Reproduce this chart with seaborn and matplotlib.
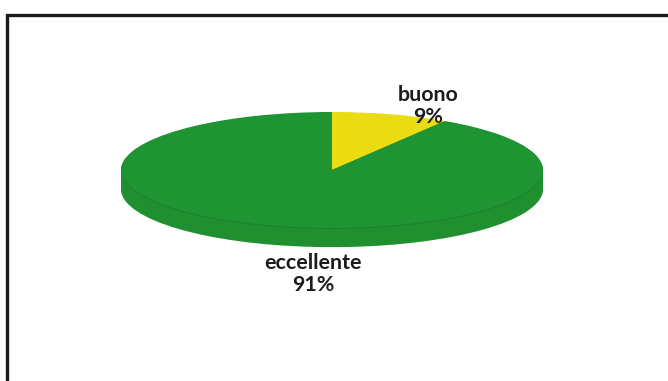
import matplotlib
matplotlib.use("Agg")
import matplotlib.pyplot as plt
import seaborn as sns
from matplotlib.patches import Rectangle

categories = ["buono", "eccellente"]
shares = [9, 91]
top_colors = ["#e9dc12", "#1f9433"]
side_color = "#1f8f30"

W, H = 668, 381
sns.set_theme(style="white")
plt.rcParams["font.family"] = ["Lato", "DejaVu Sans"]

fig = plt.figure(figsize=(W / 100, H / 100), dpi=100, facecolor="white")


def frac_box(left, top, right, bottom):
    return [left / W, 1 - bottom / H, (right - left) / W, (bottom - top) / H]


ax = fig.add_axes(frac_box(121, 112, 543, 228))

# Rim of the disc: the same pie, pushed downward and stacked
rim_steps = [-0.33 * i / 16 for i in range(16, 0, -1)]
for dy in rim_steps:
    ax.pie(shares, colors=[side_color, side_color], startangle=90, counterclock=False,
           center=(0, dy), radius=1, wedgeprops={"linewidth": 0, "clip_on": False})

# Faint seam where the top surface meets the rim
ax.pie([100], colors=["#187a2b"], startangle=90, center=(0, -0.012), radius=1,
       wedgeprops={"linewidth": 0, "clip_on": False})

# Top surface
ax.pie(shares, colors=top_colors, startangle=90, counterclock=False,
       center=(0, 0), radius=1, wedgeprops={"linewidth": 0, "clip_on": False})

ax.set_aspect("auto")
ax.set_xlim(-1, 1)
ax.set_ylim(-1, 1)
ax.axis("off")

# Labels
label_style = dict(ha="center", va="center", fontsize=15.4, fontweight="bold",
                   color="#1c1c1c", transform=fig.transFigure, linespacing=1.08)
fig.text(428 / W, 1 - 106 / H, f"{categories[0]}\n{shares[0]}%", **label_style)
fig.text(313 / W, 1 - 274 / H, f"{categories[1]}\n{shares[1]}%", **label_style)

# Outer border
fig.add_artist(Rectangle((7 / W, 1 - 400 / H), 680 / W, 385 / H, transform=fig.transFigure,
                         facecolor="none", edgecolor="#1a1a1a", linewidth=2.4))

fig.savefig("out.png", dpi=100)
